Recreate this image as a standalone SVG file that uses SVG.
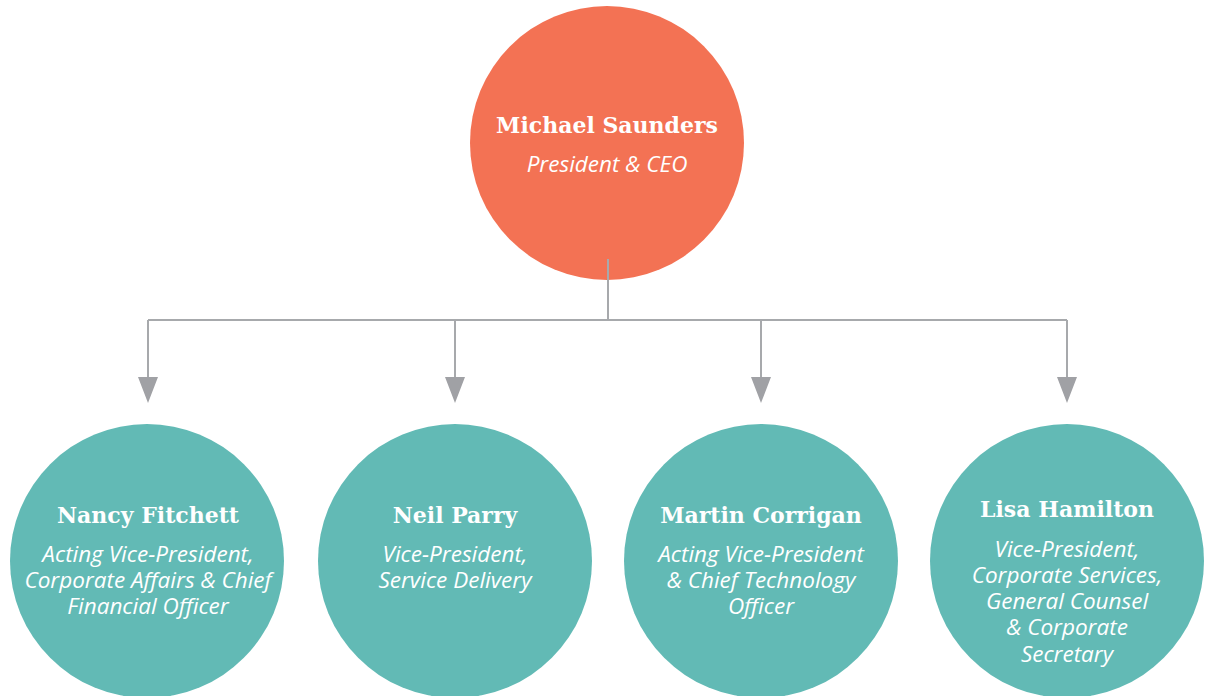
<svg xmlns="http://www.w3.org/2000/svg" width="1209" height="696" viewBox="0 0 1209 696">
<style>
.top{fill:#F37254}
.sub{fill:#62BAB5}
.name{font-family:"DejaVu Serif",serif;font-weight:bold;font-size:22px;fill:#fff;text-anchor:middle}
.role{font-family:"Open Sans",sans-serif;font-style:italic;font-size:22.5px;fill:#fff;text-anchor:middle}
.ln{stroke:#A7A9AC;stroke-width:2;fill:none}
.ah{fill:#A0A1A5}
</style>
<rect width="1209" height="696" fill="#fff"/>
<g id="n-michael">
<circle class="top" cx="607" cy="143" r="137"/>
<text class="name" x="607" y="133">Michael Saunders</text>
<text class="role" x="607" y="172">President &amp; CEO</text>
</g>
<g id="connectors">
<path class="ln" d="M608 259V320M148 320H1067M148 320V378M455 320V378M761 320V378M1067 320V378"/>
<path class="ah" d="M138 377H158L148 403Z M445 377H465L455 403Z M751 377H771L761 403Z M1057 377H1077L1067 403Z"/>
</g>
<g id="n-nancy">
<circle class="sub" cx="147" cy="561" r="137"/>
<text class="name" x="148" y="523">Nancy Fitchett</text>
<text class="role" x="148" y="562">Acting Vice-President,</text>
<text class="role" x="148" y="588">Corporate Affairs &amp; Chief</text>
<text class="role" x="148" y="614">Financial Officer</text>
</g>
<g id="n-neil">
<circle class="sub" cx="455" cy="561" r="137"/>
<text class="name" x="455" y="523">Neil Parry</text>
<text class="role" x="455" y="562">Vice-President,</text>
<text class="role" x="455" y="588">Service Delivery</text>
</g>
<g id="n-martin">
<circle class="sub" cx="761" cy="561" r="137"/>
<text class="name" x="761" y="523">Martin Corrigan</text>
<text class="role" x="761" y="562">Acting Vice-President</text>
<text class="role" x="761" y="588">&amp; Chief Technology</text>
<text class="role" x="761" y="614">Officer</text>
</g>
<g id="n-lisa">
<circle class="sub" cx="1067" cy="561" r="137"/>
<text class="name" x="1067" y="517">Lisa Hamilton</text>
<text class="role" x="1067" y="557">Vice-President,</text>
<text class="role" x="1067" y="583">Corporate Services,</text>
<text class="role" x="1067" y="609">General Counsel</text>
<text class="role" x="1067" y="635">&amp; Corporate</text>
<text class="role" x="1067" y="662">Secretary</text>
</g>
</svg>
